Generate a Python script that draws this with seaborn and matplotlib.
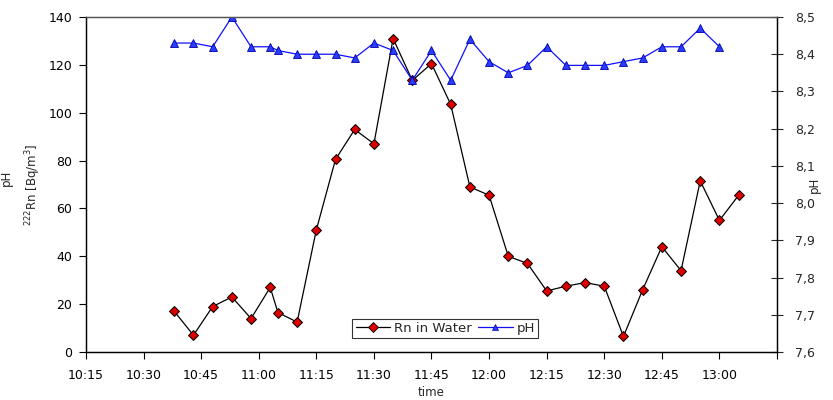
import numpy as np
import pandas as pd
import seaborn as sns
import matplotlib
matplotlib.use("Agg")
from matplotlib import pyplot as plt
from matplotlib.ticker import FuncFormatter, MultipleLocator
from matplotlib.lines import Line2D

# sampling times (hh:mm)
rn_times = ["10:38", "10:43", "10:48", "10:53", "10:58", "11:03", "11:05", "11:10",
            "11:15", "11:20", "11:25", "11:30", "11:35", "11:40", "11:45", "11:50",
            "11:55", "12:00", "12:05", "12:10", "12:15", "12:20", "12:25", "12:30",
            "12:35", "12:40", "12:45", "12:50", "12:55", "13:00", "13:05"]
rn_values = [17, 7, 19, 23, 14, 27, 16.5, 12.5, 51, 80.5, 93, 87, 131, 113.5, 120.5, 103.5,
             69, 65.5, 40, 37, 25.5, 27.5, 29, 27.5, 6.5, 26, 44, 34, 71.5, 55, 65.5]

ph_times = rn_times[:-1]
ph_values = [8.43, 8.43, 8.42, 8.50, 8.42, 8.42, 8.41, 8.40, 8.40, 8.40, 8.39, 8.43,
             8.41, 8.33, 8.41, 8.33, 8.44, 8.38, 8.35, 8.37, 8.42, 8.37, 8.37, 8.37,
             8.38, 8.39, 8.42, 8.42, 8.47, 8.42]

tick_labels = ["10:15", "10:30", "10:45", "11:00", "11:15", "11:30", "11:45",
               "12:00", "12:15", "12:30", "12:45", "13:00"]

def to_min(t):
	h, m = t.split(":")
	return int(h) * 60 + int(m)

rn_df = pd.DataFrame({"t": [to_min(t) for t in rn_times], "rn": rn_values})
ph_df = pd.DataFrame({"t": [to_min(t) for t in ph_times], "ph": ph_values})

sns.set_style("ticks")
plt.rcParams["font.family"] = ["DejaVu Sans"]

fig = plt.figure(figsize=(8.33, 4.0), dpi=100)
ax1 = fig.add_axes([0.1032, 0.12, 0.8296, 0.8375])
ax2 = ax1.twinx()

sns.lineplot(data=rn_df, x="t", y="rn", ax=ax1, color="black", lw=0.9,
             marker="D", markersize=5.2, markerfacecolor="#dd0000",
             markeredgecolor="black", markeredgewidth=0.7)
sns.lineplot(data=ph_df, x="t", y="ph", ax=ax2, color="#1010ff", lw=0.9,
             marker="^", markersize=5.5, markerfacecolor="#2a3cff",
             markeredgecolor="#0000aa", markeredgewidth=0.6)

x0 = to_min("10:15")
ax1.set_xlim(x0, to_min("13:15"))
ticks = [to_min(t) for t in tick_labels]
ax1.set_xticks(ticks + [to_min("13:15")])
ax1.set_xticklabels(tick_labels + [""])

ax1.set_ylim(0, 140)
ax1.yaxis.set_major_locator(MultipleLocator(20))
ax2.set_ylim(7.6, 8.5)
ax2.set_yticks(np.arange(7.6, 8.55, 0.1))
ax2.yaxis.set_major_formatter(FuncFormatter(lambda v, p: ("%.1f" % v).replace(".", ",")))

ax1.tick_params(axis="both", labelsize=9, direction="out", length=5, width=0.8,
                colors="black", pad=5)
ax1.tick_params(axis="x", pad=7)
ax2.tick_params(axis="y", labelsize=9, direction="inout", length=8, width=0.8, pad=9)

ax1.set_xlabel("time", fontsize=8.5, labelpad=3)
ax1.set_ylabel(r"$^{222}$Rn [Bq/m$^{3}$]", fontsize=8.5)
ax1.yaxis.set_label_coords(-0.062, 0.5)
ax2.set_ylabel("pH", fontsize=8.5)
ax2.yaxis.set_label_coords(1.045, 0.5)
fig.text(0.008, 0.555, "pH", rotation=90, fontsize=8.5, ha="center", va="center")

for a in (ax1, ax2):
	for s in a.spines.values():
		s.set_visible(True)
		s.set_linewidth(0.9)
		s.set_color("black")
	a.spines["top"].set_color("#555555")

handles = [Line2D([], [], color="black", lw=0.9, marker="D", markersize=5,
                  markerfacecolor="#dd0000", markeredgecolor="black", markeredgewidth=0.6),
           Line2D([], [], color="#1010ff", lw=0.9, marker="^", markersize=5,
                  markerfacecolor="#2a3cff", markeredgecolor="#0000aa", markeredgewidth=0.5)]
leg = ax2.legend(handles, ["Rn in Water", "pH"], loc="center", bbox_to_anchor=(0.52, 0.07),
                 ncol=2, fontsize=9.5, frameon=True, fancybox=False, edgecolor="black",
                 handlelength=2.6, columnspacing=0.5, handletextpad=0.3,
                 borderpad=0.25, borderaxespad=0)
leg.get_frame().set_linewidth(0.8)

fig.savefig("out.png", dpi=100)
